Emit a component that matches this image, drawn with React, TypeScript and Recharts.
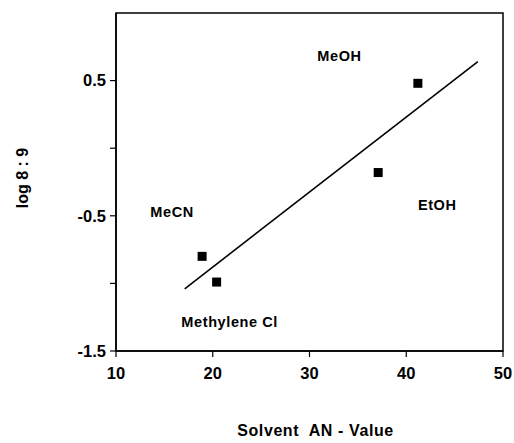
import React from 'react';
import { ComposedChart, XAxis, YAxis, Scatter, ReferenceArea, Label } from 'recharts';

const FONT = '"Liberation Sans", Arial, Helvetica, sans-serif';

// Data
const solvents = ['MeOH', 'EtOH', 'MeCN', 'Methylene Cl'];
const anValues = [41.2, 37.1, 18.9, 20.4];
const logRatio = [0.48, -0.18, -0.8, -0.99];
// where each solvent name is written (data coordinates)
const labelX = [33.1, 43.2, 15.8, 21.75];
const labelY = [0.685, -0.42, -0.475, -1.283];
// regression line end points
const fitX = [17.1, 47.4];
const fitY = [-1.04, 0.64];

const xTicks = [10, 20, 30, 40, 50];
const yTicks = [-1.5, -1, -0.5, 0, 0.5];
const yLabelled = [-1.5, -0.5, 0.5];

const points = solvents.map((_, i) => ({ x: anValues[i], y: logRatio[i] }));
const names = solvents.map((name, i) => ({ x: labelX[i], y: labelY[i], name }));
const fit = fitX.map((x, i) => ({ x, y: fitY[i] }));

const Square = (props: any) => {
  const { cx, cy } = props;
  return <rect x={cx - 4.5} y={cy - 4.5} width={9} height={9} fill="#000" />;
};

const NameText = (props: any) => {
  const { cx, cy, payload } = props;
  return (
    <text
      x={cx}
      y={cy}
      textAnchor="middle"
      dominantBaseline="central"
      fontFamily={FONT}
      fontWeight="bold"
      fontSize={14.5}
      letterSpacing={0.6}
      fill="#000"
    >
      {payload.name}
    </text>
  );
};

const Empty = () => <g />;

const tickStyle = { fontFamily: FONT, fontWeight: 'bold', fontSize: 16.5, fill: '#000' };

export default function App() {
  return (
    <div style={{ position: 'absolute', left: 0, top: 0, background: '#fff' }}>
      <ComposedChart width={514} height={443} margin={{ top: 13, right: 11, bottom: 0, left: 0 }}>
        <XAxis
          type="number"
          dataKey="x"
          domain={[10, 50]}
          ticks={xTicks}
          allowDataOverflow
          height={92}
          tickSize={6}
          tickMargin={10}
          tick={tickStyle}
          axisLine={{ stroke: '#000', strokeWidth: 1.5 }}
          tickLine={{ stroke: '#000', strokeWidth: 1.2 }}
        >
          <Label
            content={(p: any) => {
              const vb = p.viewBox;
              return (
                <text
                  x={vb.x + vb.width / 2 + 6}
                  y={436}
                  textAnchor="middle"
                  fontFamily={FONT}
                  fontWeight="bold"
                  fontSize={16}
                  letterSpacing={0.6}
                  fill="#000"
                  style={{ whiteSpace: 'pre' }}
                >
                  {'Solvent  AN - Value'}
                </text>
              );
            }}
          />
        </XAxis>
        <YAxis
          type="number"
          dataKey="y"
          domain={[-1.5, 1]}
          ticks={yTicks}
          allowDataOverflow
          width={116}
          tickSize={6}
          tickMargin={4}
          tick={tickStyle}
          tickFormatter={(v: number) => (yLabelled.includes(v) ? v.toFixed(1) : '')}
          axisLine={{ stroke: '#000', strokeWidth: 1.5 }}
          tickLine={{ stroke: '#000', strokeWidth: 1.2 }}
        >
          <Label
            content={(p: any) => {
              const vb = p.viewBox;
              const cy = vb.y + vb.height / 2 - 4;
              return (
                <text
                  x={22}
                  y={cy}
                  transform={`rotate(-90 22 ${cy})`}
                  textAnchor="middle"
                  dominantBaseline="central"
                  fontFamily={FONT}
                  fontWeight="bold"
                  fontSize={16}
                  fill="#000"
                >
                  log 8 : 9
                </text>
              );
            }}
          />
        </YAxis>
        <ReferenceArea x1={10} x2={50} y1={-1.5} y2={1} fill="none" stroke="#000" strokeWidth={1.5} ifOverflow="visible" />
        <Scatter data={fit} line={{ stroke: '#000', strokeWidth: 1.6 }} shape={Empty} isAnimationActive={false} />
        <Scatter data={points} shape={Square} isAnimationActive={false} />
        <Scatter data={names} shape={NameText} isAnimationActive={false} />
      </ComposedChart>
    </div>
  );
}
